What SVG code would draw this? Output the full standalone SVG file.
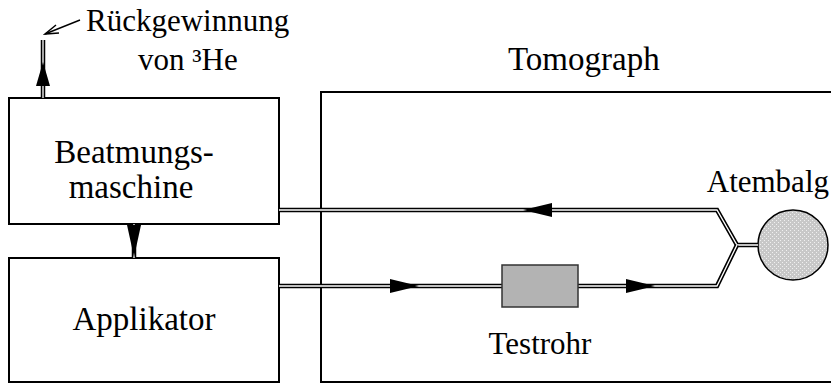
<svg xmlns="http://www.w3.org/2000/svg" width="831" height="383" viewBox="0 0 831 383">
  <style>
    .box { fill: #fff; stroke: #000; stroke-width: 2; }
    .lbl { font-family: "Liberation Serif", "Times New Roman", serif; font-size: 31px; fill: #000; }
    .big { font-size: 33px; }
    .tube-o { fill: none; stroke: #000; stroke-width: 4.5; stroke-linejoin: miter; }
    .tube-i { fill: none; stroke: #fff; stroke-width: 1.3; stroke-linejoin: miter; }
    .head { fill: #000; }
  </style>
  <defs>
    <pattern id="stipple" width="4" height="4" patternUnits="userSpaceOnUse">
      <rect width="4" height="4" fill="#c8c8c8"/>
      <rect x="0" y="0" width="1" height="1" fill="#f0f0f0"/>
      <rect x="2" y="2" width="1" height="1" fill="#f0f0f0"/>
    </pattern>
  </defs>

  <g id="tomograph">
    <rect class="box" x="321" y="92" width="520" height="290"/>
    <text class="lbl big" x="508" y="70">Tomograph</text>
  </g>

  <g id="beatmungsmaschine">
    <rect class="box" x="9" y="98" width="270" height="126"/>
    <text class="lbl big" x="134" y="163" text-anchor="middle">Beatmungs-</text>
    <text class="lbl big" x="131" y="198" text-anchor="middle">maschine</text>
  </g>

  <g id="applikator">
    <rect class="box" x="9" y="258" width="270" height="124"/>
    <text class="lbl big" x="144" y="330" text-anchor="middle">Applikator</text>
  </g>

  <g id="testrohr">
    <text class="lbl" x="540" y="354" text-anchor="middle">Testrohr</text>
  </g>

  <g id="atembalg">
    <circle cx="793" cy="245" r="35" fill="url(#stipple)" stroke="#000" stroke-width="1.5"/>
    <text class="lbl" x="829" y="192" text-anchor="end">Atembalg</text>
  </g>

  <g id="rueckgewinnung">
    <text class="lbl" x="86" y="31">Rückgewinnung</text>
    <text class="lbl" x="138" y="70">von ³He</text>
  </g>

  <!-- tubes, drawn over the scanner frame -->
  <g id="connectors">
    <path class="tube-o" d="M43,40 V98"/>
    <path class="tube-i" d="M43,40 V98"/>
    <path class="tube-o" d="M134,224 V258"/>
    <path class="tube-i" d="M134,224 V258"/>
    <path class="tube-o" d="M279,210 H717 L737,245 L758,245"/>
    <path class="tube-i" d="M279,210 H717 L737,245 L758,245"/>
    <path class="tube-o" d="M279,286 H717 L737,245"/>
    <path class="tube-i" d="M279,286 H717 L737,245"/>
    <!-- flow arrowheads -->
    <polygon class="head" points="43,62 36,86 50,86"/>
    <polygon class="head" points="134,257 127,225 141,225"/>
    <polygon class="head" points="523,210 552,203 552,217"/>
    <polygon class="head" points="419,286 390,279 390,293"/>
    <polygon class="head" points="655,286 626,279 626,293"/>
    <!-- pointer to label -->
    <path d="M80,20 L45,34" fill="none" stroke="#000" stroke-width="1.5"/>
    <path d="M56,25 L45,34 L59,33" fill="none" stroke="#000" stroke-width="1.5"/>
  </g>

  <!-- test tube section sits on top of the line -->
  <rect x="502" y="265" width="76" height="42" fill="#b3b3b3" stroke="#333" stroke-width="1.5"/>
</svg>
